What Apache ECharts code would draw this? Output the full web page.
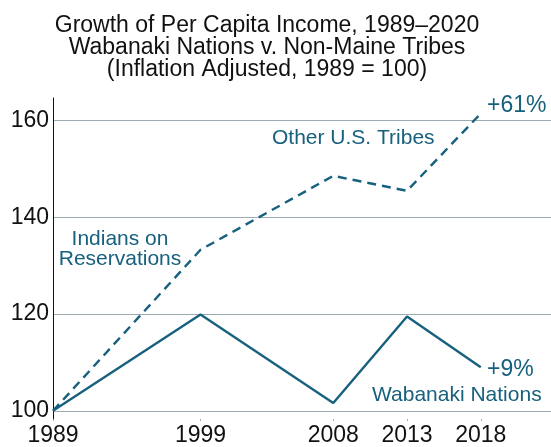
<!DOCTYPE html>
<html>
<head>
<meta charset="utf-8">
<script src="https://cdn.jsdelivr.net/npm/echarts@6/dist/echarts.min.js"></script>
<style>
html,body{margin:0;padding:0;background:#fff;}
#chart{width:551px;height:447px;}
</style>
</head>
<body>
<div id="chart"></div>
<script>
var years = [1989, 1999, 2008, 2013, 2018];
var otherTribes = [100, 133.3, 148.6, 145.5, 161.5];
var wabanaki = [100, 119.9, 101.6, 119.5, 109.0];
var yTicks = [100, 120, 140, 160];
var titleLines = ['Growth of Per Capita Income, 1989\u20132020', 'Wabanaki Nations v. Non-Maine Tribes', '(Inflation Adjusted, 1989 = 100)'];

var TEAL = '#17607e';
var FONT = '"Liberation Sans", Arial, Helvetica, sans-serif';

function pairs(xs, ys) { return xs.map(function (x, i) { return [x, ys[i]]; }); }

var chart = echarts.init(document.getElementById('chart'), null, {renderer: 'canvas'});
chart.setOption({
  animation: false,
  backgroundColor: '#fff',
  title: {
    text: titleLines.join('\n'),
    left: 262, top: 10, textAlign: 'center',
    textStyle: {fontFamily: FONT, fontSize: 23, fontWeight: 'normal', color: '#111', lineHeight: 22}
  },
  grid: {left: 53, right: 0, top: 98, bottom: 26, containLabel: false},
  xAxis: {
    type: 'value', min: 1989, max: 2022.76,
    axisLine: {show: false},
    axisTick: {show: true, customValues: years, length: 2, inside: false, lineStyle: {color: '#aaa', width: 1}},
    axisLabel: {customValues: years, margin: 5, fontFamily: FONT, fontSize: 23, color: '#111', formatter: function (v) { return String(v); }},
    splitLine: {show: false}
  },
  yAxis: {
    type: 'value', min: 98.3, max: 164.7,
    axisLine: {show: true, lineStyle: {color: '#111', width: 1}},
    axisTick: {show: false, customValues: yTicks},
    axisLabel: {customValues: yTicks, margin: 4, fontFamily: FONT, fontSize: 23, color: '#111'},
    splitLine: {show: true, lineStyle: {color: '#9aabb2', width: 1}}
  },
  series: [
    {
      name: 'Other U.S. Tribes', type: 'line', data: pairs(years, otherTribes),
      symbol: 'none', lineStyle: {color: TEAL, width: 2.4, type: [9, 6]}
    },
    {
      name: 'Wabanaki Nations', type: 'line', data: pairs(years, wabanaki),
      symbol: 'none', lineStyle: {color: TEAL, width: 2.4}
    }
  ],
  graphic: [
    {type: 'text', left: 487, top: 94, style: {text: '+61%', fill: TEAL, font: '23px ' + FONT}},
    {type: 'text', left: 272, top: 128, style: {text: 'Other U.S. Tribes', fill: TEAL, font: '21px ' + FONT}},
    {type: 'text', x: 120, y: 229, style: {text: 'Indians on\nReservations', fill: TEAL, font: '21px ' + FONT, align: 'center', lineHeight: 20}},
    {type: 'text', left: 487, top: 358, style: {text: '+9%', fill: TEAL, font: '23px ' + FONT}},
    {type: 'text', left: 372, top: 385, style: {text: 'Wabanaki Nations', fill: TEAL, font: '21px ' + FONT}}
  ]
});
</script>
</body>
</html>
